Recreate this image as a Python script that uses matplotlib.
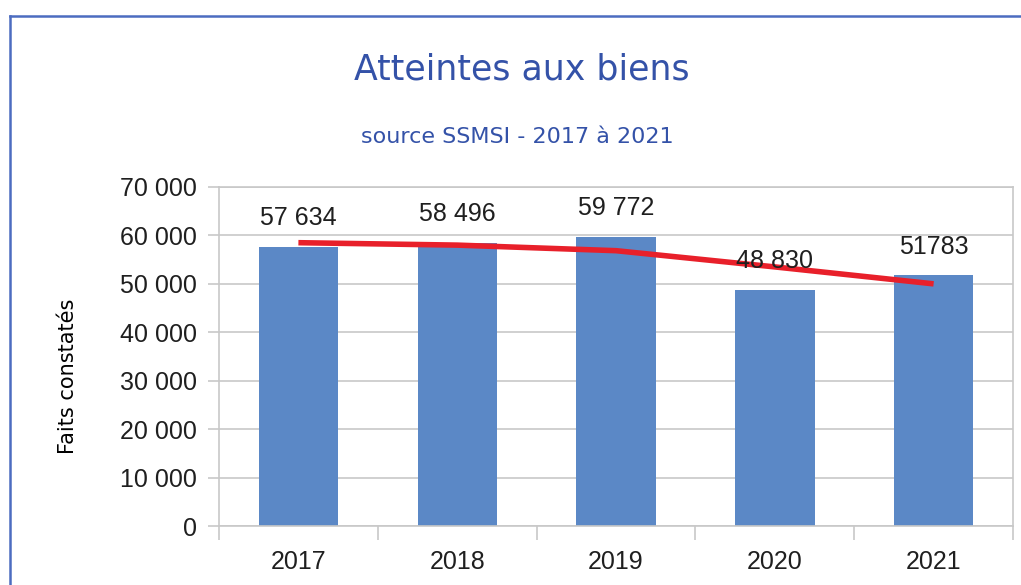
import matplotlib
matplotlib.use("Agg")
import matplotlib.pyplot as plt
from matplotlib.lines import Line2D

# data
years = ["2017", "2018", "2019", "2020", "2021"]
faits = [57634, 58496, 59772, 48830, 51783]
labels = ["57 634", "58 496", "59 772", "48 830", "51783"]
# hand drawn red trend line
trend = [58500, 58000, 56850, 53500, 50000]

yticks = [0, 10000, 20000, 30000, 40000, 50000, 60000, 70000]
ytick_labels = ["0", "10 000", "20 000", "30 000", "40 000", "50 000", "60 000", "70 000"]

bar_color = "#5B88C6"
title_color = "#3452A8"
text_color = "#1F1F1F"
grid_color = "#C8C8C8"

W, H = 1021, 585
fig = plt.figure(figsize=(W / 100, H / 100), dpi=100)
ax = fig.add_axes([219 / W, 1 - 526 / H, (1013 - 219) / W, (526 - 187) / H])

x = list(range(len(years)))
ax.bar(x, faits, width=0.5, color=bar_color, zorder=2)
ax.plot(x, trend, color="#E8202A", linewidth=4, solid_capstyle="butt", zorder=3)

for xi, v, lab in zip(x, faits, labels):
    ax.annotate(lab, (xi, v), xytext=(0, 12), textcoords="offset points",
                ha="center", va="bottom", fontsize=18, color=text_color,
                family="Liberation Sans", zorder=4)

ax.set_xlim(-0.5, len(years) - 0.5)
ax.set_ylim(0, 70000)
ax.set_yticks(yticks)
ax.set_yticklabels(ytick_labels, fontsize=18, color=text_color, family="Liberation Sans")
ax.set_xticks(x)
ax.set_xticklabels(years, fontsize=18, color=text_color, family="Liberation Sans")
ax.tick_params(axis="x", length=0, pad=17)
ax.tick_params(axis="y", length=8, color=grid_color, width=1.2, pad=8)
# category boundary ticks on the x axis
ax.set_xticks([i - 0.5 for i in range(len(years) + 1)], minor=True)
ax.tick_params(axis="x", which="minor", length=10, color=grid_color, width=1.2)

ax.grid(axis="y", color=grid_color, linewidth=1.2, zorder=0)
for s in ax.spines.values():
    s.set_color(grid_color)
    s.set_linewidth(1.2)

ax.set_ylabel("Faits constatés", fontsize=15, color="black", family="DejaVu Sans")
ax.yaxis.set_label_coords(-(219 - 78) / (1013 - 219), (526 - 376) / (526 - 187))

fig.text(0.511, 1 - 70 / H, "Atteintes aux biens", ha="center", va="center",
         fontsize=25, color=title_color, family="DejaVu Sans")
fig.text(0.507, 1 - 137 / H, "source SSMSI - 2017 à 2021", ha="center", va="center",
         fontsize=16, color=title_color, family="DejaVu Sans")

# blue frame of the chart object
frame_color = "#4C6CC0"
fig.add_artist(Line2D([10 / W, 10 / W], [0, 1 - 16 / H], color=frame_color,
                      linewidth=1.8, transform=fig.transFigure))
fig.add_artist(Line2D([10 / W, 1], [1 - 16 / H, 1 - 16 / H], color=frame_color,
                      linewidth=1.8, transform=fig.transFigure))

fig.savefig("out.png", dpi=100)
